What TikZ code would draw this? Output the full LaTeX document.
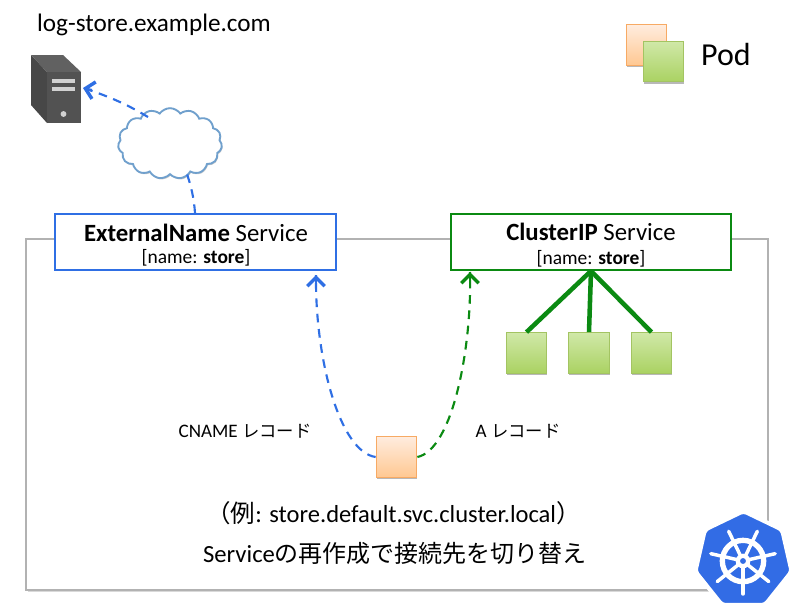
\documentclass[tikz,border=0pt]{standalone}
\usepackage{fontspec}
\setmainfont{Carlito}
\newfontfamily\cjk{Noto Sans CJK JP}
\usetikzlibrary{arrows.meta,shadows,shapes.symbols,shapes.geometric}
\definecolor{kblue}{HTML}{326CE5}
\definecolor{linkblue}{HTML}{2F6FE4}
\definecolor{linkgreen}{HTML}{0B8A12}
\definecolor{framegray}{HTML}{B2B2B2}
\definecolor{podgreenedge}{HTML}{A3C462}
\definecolor{podgreentop}{HTML}{D0E8A8}
\definecolor{podgreenbot}{HTML}{AAD262}
\definecolor{podorangeedge}{HTML}{F7AA64}
\definecolor{podorangetop}{HTML}{FFECDE}
\definecolor{podorangebot}{HTML}{FFC892}
\definecolor{cloudedge}{HTML}{70A0CD}
\tikzset{
  softshadow/.style={drop shadow={shadow xshift=0.4pt,shadow yshift=-1.6pt,fill=black,opacity=.28}},
  greenpod/.style={rectangle,draw=podgreenedge,line width=.9pt,top color=podgreentop,bottom color=podgreenbot,minimum size=30.4pt,inner sep=0pt,softshadow},
  orangepod/.style={rectangle,draw=podorangeedge,line width=.9pt,top color=podorangetop,bottom color=podorangebot,minimum size=30.4pt,inner sep=0pt},
  svcbox/.style={rectangle,fill=white,line width=1.5pt,minimum width=210.5pt,minimum height=42pt,inner sep=0pt},
  svctitle/.style={inner sep=0pt,font=\fontsize{18.6pt}{20pt}\selectfont},
  svcsub/.style={inner sep=0pt,font=\fontsize{14.6pt}{16pt}\selectfont},
  bluelink/.style={linkblue,line width=1.6pt,dash pattern=on 6.5pt off 5pt},
  greenlink/.style={linkgreen,line width=1.6pt,dash pattern=on 6.5pt off 5pt},
  barb/.style={-{Straight Barb[length=6.5pt,width=13pt,line width=2.6pt]}},
  podlink/.style={linkgreen,line width=3.4pt},
  reclabel/.style={inner sep=0pt,font=\fontsize{14.3pt}{17pt}\selectfont},
}
\begin{document}
\begin{tikzpicture}[x=0.75pt,y=-0.75pt]
\useasboundingbox (0,0) rectangle (800,615);
\fill[white] (0,0) rectangle (800,615);
% frame
\node[rectangle,draw=framegray,line width=1.5pt,fill=white,minimum width=556pt,minimum height=263pt,inner sep=0pt,drop shadow={shadow xshift=1pt,shadow yshift=-1.5pt,fill=black,opacity=.15}] (frame) at (397,414.5) {};
% server
\fill[black!72] (31,55) -- (47,72) -- (47,123) -- (31,105) -- cycle;
\fill[black!62] (31,55) -- (63,55) -- (81,72) -- (47,72) -- cycle;
\fill[black!68] (47,72) rectangle (81,123);
\fill[black!18] (52,79) rectangle (75,83);
\fill[black!18] (52,87) rectangle (75,91);
\fill[black!18] (63.5,114) circle (2.2pt);
\coordinate (srv) at (83,88);
% cloud
\node[cloud,cloud puffs=15,cloud puff arc=110,aspect=1.5,draw=cloudedge,line width=1.4pt,fill=white,minimum width=78pt,minimum height=53pt,inner sep=0pt,drop shadow={shadow xshift=.6pt,shadow yshift=-1pt,fill=black,opacity=.2}] (cl) at (170,143.5) {};
\coordinate (clA) at (148,117);
\coordinate (clB) at (187,174);
% service boxes
\node[svcbox,draw=linkblue] (ext) at (195.5,242) {};
\node[svctitle] (extT1) at (196,233) {\textbf{ExternalName} Service};
\node[svcsub] (extT2) at (196,258) {[name: \textbf{store}]};
\node[svcbox,draw=linkgreen] (cip) at (591,241.5) {};
\node[svctitle] (cipT1) at (591,232) {\textbf{ClusterIP} Service};
\node[svcsub] (cipT2) at (591,259) {[name: \textbf{store}]};
% pods
\node[orangepod,softshadow] (lgo) at (646.5,45) {};
\node[greenpod] (lgg) at (663.5,61.5) {};
\node[greenpod] (p1) at (526.5,353) {};
\node[greenpod] (p2) at (589,353) {};
\node[greenpod] (p3) at (651.5,353) {};
\node[orangepod,softshadow] (src) at (396.5,457) {};
% connectors
\coordinate (hub) at (591,271);
\draw[podlink] (hub) -- (p1.north);
\draw[podlink] (hub) -- (p2.north);
\draw[podlink] (hub) -- (p3.north);
\coordinate (extTop) at (195,213);
\coordinate (extB) at (316,275);
\coordinate (cipB) at (470,272);
\draw[bluelink] (clA) .. controls (125,103) and (105,95) .. (srv);
\draw[linkblue,line width=1.6pt,barb] (92,90) -- (srv);
\draw[bluelink] (extTop) .. controls (194,198) and (191,186) .. (clB);
\draw[bluelink] (src.west) .. controls (340,452) and (315,360) .. (extB);
\draw[linkblue,line width=1.6pt,barb] (316,285) -- (extB);
\draw[greenlink] (src.east) .. controls (452,450) and (472,350) .. (cipB);
\draw[linkgreen,line width=1.6pt,barb] (470,282) -- (cipB);
% labels
\node[inner sep=0pt,font=\fontsize{18.9pt}{22pt}\selectfont] (domain) at (154,25) {log-store.example.com};
\node[inner sep=0pt,font=\fontsize{24pt}{28pt}\selectfont] (podl) at (726,54) {Pod};
\node[reclabel] (cname) at (245,431) {CNAME {\cjk\fontsize{13pt}{17pt}\selectfont レコード}};
\node[reclabel] (arec) at (518,431) {A {\cjk\fontsize{13pt}{17pt}\selectfont レコード}};
\node[inner sep=0pt,font=\fontsize{18.4pt}{22pt}\selectfont] (ex) at (393.5,513) {{\cjk （例}: store.default.svc.cluster.local{\cjk ）}};
\node[inner sep=0pt,font=\fontsize{18.5pt}{22pt}\selectfont] (sw) at (395,553) {Service{\cjk\fontsize{18pt}{22pt}\selectfont の再作成で接続先を切り替え}};
% logo
\node[regular polygon,regular polygon sides=7,minimum size=74pt,inner sep=0pt,fill=kblue,draw=white,line width=3pt,rounded corners=2.5pt] (k8s) at (743.5,560.5) {};
\coordinate (w) at (743,561);
\draw[white,line width=4pt] (w) circle (15.5pt);
\foreach \a in {90,141.43,192.86,244.29,295.71,347.14,38.57}{
  \draw[white,line width=2.6pt,line cap=round] (w) -- ++({\a}:{33}) ;
}
\fill[white] (w) circle (5.5pt);
\fill[kblue] (w) circle (2.2pt);
\end{tikzpicture}
\end{document}
